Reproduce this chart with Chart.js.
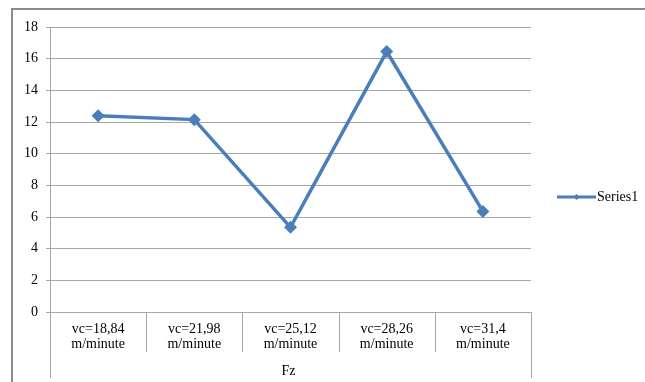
<!DOCTYPE html>
<html>
<head>
<meta charset="utf-8">
<script src="https://cdn.jsdelivr.net/npm/chart.js@4/dist/chart.umd.min.js"></script>
<style>
  html, body { margin: 0; padding: 0; background: #ffffff; }
  #wrap { width: 645px; height: 382px; }
</style>
</head>
<body>
<div id="wrap"><canvas id="chart" width="645" height="382"></canvas></div>
<script>
// Cutting-speed categories (two-line labels) and the measured series
const categories = [
  ['vc=18,84', 'm/minute'],
  ['vc=21,98', 'm/minute'],
  ['vc=25,12', 'm/minute'],
  ['vc=28,26', 'm/minute'],
  ['vc=31,4', 'm/minute']
];
const series1 = [12.4, 12.15, 5.35, 16.45, 6.35];
const seriesName = 'Series1';
const groupLabel = 'Fz';
const yMin = 0;
const yMax = 18;
const yStep = 2;

const LINE_BLUE = '#4A7EBB';
const GRID_GREY = '#A6A6A6';
const FRAME_GREY = '#8C8C8C';
const SERIF = "'Liberation Serif', 'Times New Roman', serif";

// Frame, category dividers, group label and legend drawn around the plot
const excelFrame = {
  id: 'excelFrame',
  beforeDraw(chart) {
    const ctx = chart.ctx;
    ctx.save();
    ctx.fillStyle = '#ffffff';
    ctx.fillRect(0, 0, chart.width, chart.height);
    ctx.strokeStyle = FRAME_GREY;
    ctx.lineWidth = 2;
    ctx.beginPath();
    ctx.moveTo(12, chart.height);
    ctx.lineTo(12, 9);
    ctx.lineTo(chart.width, 9);
    ctx.stroke();
    ctx.restore();
  },
  afterDraw(chart) {
    const ctx = chart.ctx;
    const x = chart.scales.x;
    const area = chart.chartArea;
    const n = categories.length;
    const half = (x.getPixelForTick(1) - x.getPixelForTick(0)) / 2;
    ctx.save();
    ctx.strokeStyle = GRID_GREY;
    ctx.lineWidth = 1;
    for (let i = 0; i <= n; i++) {
      const px = Math.round(i < n ? x.getPixelForTick(i) - half : x.getPixelForTick(n - 1) + half) + 0.5;
      const bottom = (i === 0 || i === n) ? chart.height - 4 : area.bottom + 40;
      ctx.beginPath();
      ctx.moveTo(px, area.bottom);
      ctx.lineTo(px, bottom);
      ctx.stroke();
    }
    // group label under the category labels
    ctx.fillStyle = '#000000';
    ctx.font = '14px ' + SERIF;
    ctx.textAlign = 'center';
    ctx.textBaseline = 'middle';
    ctx.fillText(groupLabel, (area.left + area.right) / 2 - 2, area.bottom + 59);

    // legend: line with diamond marker and series name
    const ly = 197;
    const lx0 = 557, lx1 = 596;
    ctx.strokeStyle = LINE_BLUE;
    ctx.lineWidth = 3;
    ctx.beginPath();
    ctx.moveTo(lx0, ly);
    ctx.lineTo(lx1, ly);
    ctx.stroke();
    ctx.fillStyle = LINE_BLUE;
    const cx = (lx0 + lx1) / 2, r = 3;
    ctx.beginPath();
    ctx.moveTo(cx, ly - r);
    ctx.lineTo(cx + r, ly);
    ctx.lineTo(cx, ly + r);
    ctx.lineTo(cx - r, ly);
    ctx.closePath();
    ctx.fill();
    ctx.fillStyle = '#000000';
    ctx.textAlign = 'left';
    ctx.fillText(chart.data.datasets[0].label, lx1 + 1, ly);
    ctx.restore();
  }
};

new Chart(document.getElementById('chart'), {
  type: 'line',
  data: {
    labels: categories,
    datasets: [{
      label: seriesName,
      data: series1,
      borderColor: LINE_BLUE,
      backgroundColor: LINE_BLUE,
      borderWidth: 3.5,
      pointStyle: 'rectRot',
      pointRadius: 6.5,
      pointHoverRadius: 6.5,
      pointBorderWidth: 0,
      tension: 0,
      fill: false
    }]
  },
  options: {
    responsive: false,
    animation: false,
    devicePixelRatio: 1,
    layout: { padding: { left: 12, top: 27, right: 114, bottom: 0 } },
    plugins: {
      legend: { display: false },
      tooltip: { enabled: false }
    },
    scales: {
      x: {
        type: 'category',
        offset: true,
        grid: { display: false },
        border: { display: false },
        ticks: {
          color: '#000000',
          font: { family: SERIF, size: 14, lineHeight: 1.08 },
          padding: 2,
          maxRotation: 0,
          autoSkip: false
        },
        afterFit(scale) { scale.height = 70; }
      },
      y: {
        min: yMin,
        max: yMax,
        grid: { color: GRID_GREY, tickLength: 4, lineWidth: 1 },
        border: { display: true, color: GRID_GREY },
        ticks: {
          stepSize: yStep,
          color: '#000000',
          font: { family: SERIF, size: 14 },
          padding: 8
        },
        afterFit(scale) { scale.width = 38; }
      }
    }
  },
  plugins: [excelFrame]
});
</script>
</body>
</html>
